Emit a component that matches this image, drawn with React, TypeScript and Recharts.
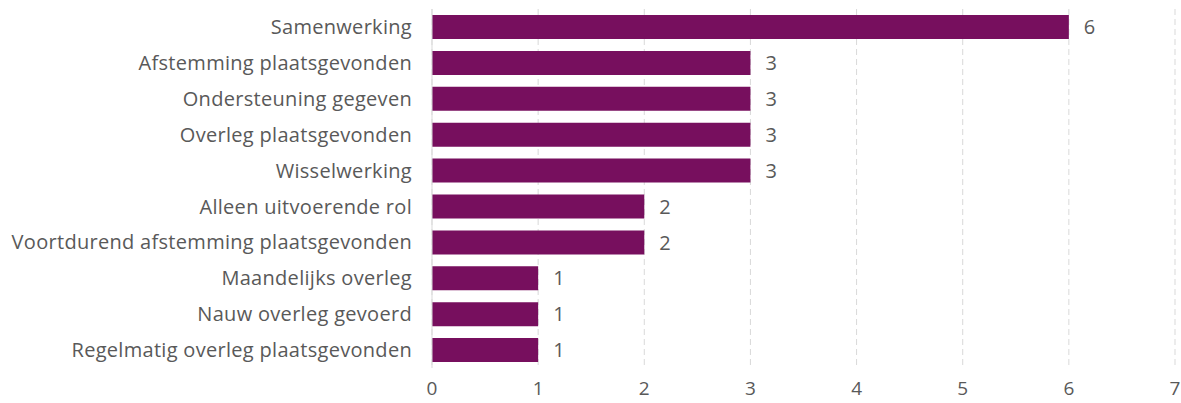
import { BarChart, Bar, XAxis, YAxis, CartesianGrid, LabelList } from "recharts";

const categories = [
  "Samenwerking",
  "Afstemming plaatsgevonden",
  "Ondersteuning gegeven",
  "Overleg plaatsgevonden",
  "Wisselwerking",
  "Alleen uitvoerende rol",
  "Voortdurend afstemming plaatsgevonden",
  "Maandelijks overleg",
  "Nauw overleg gevoerd",
  "Regelmatig overleg plaatsgevonden",
];
const counts = [6, 3, 3, 3, 3, 2, 2, 1, 1, 1];
const xTicks = [0, 1, 2, 3, 4, 5, 6, 7];

const data = categories.map((name, i) => ({ name, value: counts[i] }));

const font = "'Open Sans', sans-serif";
const textColor = "#595959";

const App = () => {
  return (
    <div style={{ position: "absolute", left: 0, top: 0, fontFamily: font }}>
      <BarChart
        width={1181}
        height={403}
        data={data}
        layout="vertical"
        margin={{ top: 9, right: 6, bottom: 0, left: 0 }}
      >
        <CartesianGrid horizontal={false} stroke="#d9d9d9" strokeDasharray="6 4" />
        <XAxis
          type="number"
          domain={[0, 7]}
          ticks={xTicks}
          axisLine={false}
          tickLine={false}
          height={35}
          tickSize={6}
          tickMargin={8}
          tick={{ fill: textColor, fontSize: 19, fontFamily: font }}
        />
        <YAxis
          type="category"
          dataKey="name"
          width={432}
          axisLine={{ stroke: "#d9d9d9" }}
          tickLine={false}
          tickSize={6}
          tickMargin={14}
          interval={0}
          tick={{ fill: textColor, fontSize: 20, fontFamily: font, letterSpacing: 0.3 }}
        />
        <Bar dataKey="value" fill="#770f5e" barSize={24} isAnimationActive={false}>
          <LabelList
            dataKey="value"
            position="right"
            offset={15}
            fill={textColor}
            fontSize={20}
            fontFamily={font}
          />
        </Bar>
      </BarChart>
    </div>
  );
};

export default App;
